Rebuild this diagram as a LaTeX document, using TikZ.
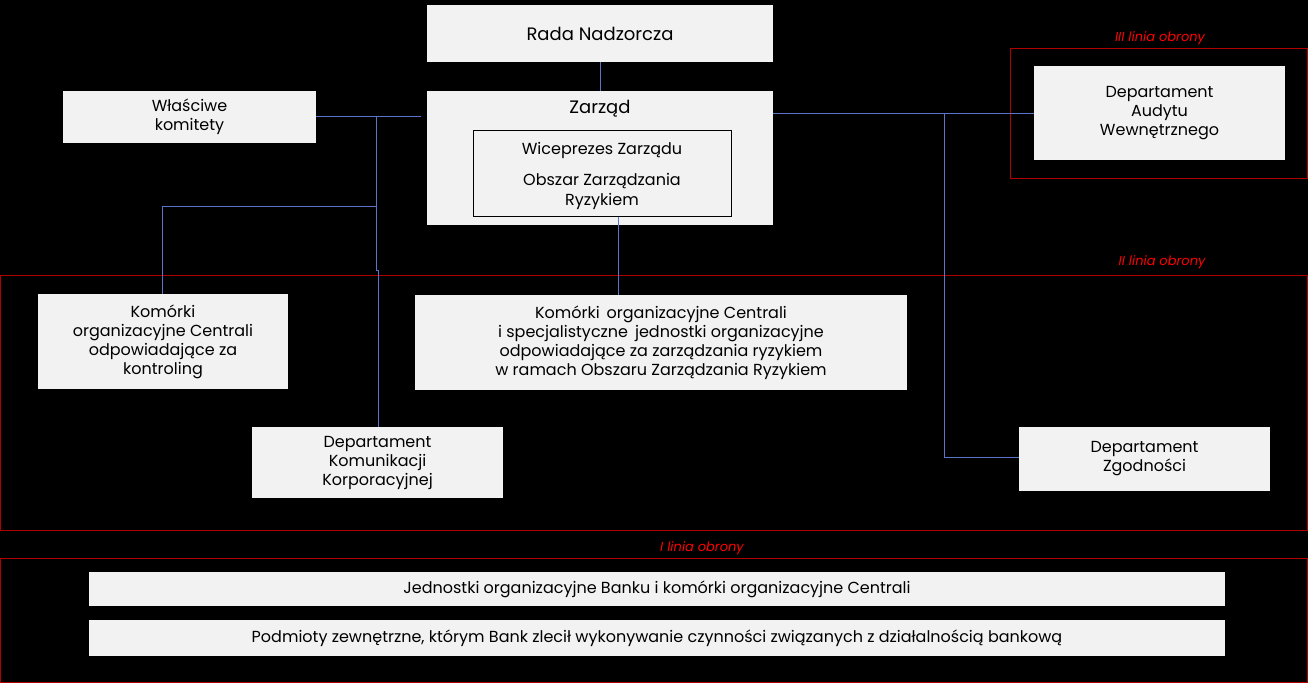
\documentclass[tikz,border=0pt]{standalone}
\usepackage{fontspec}
\setmainfont{Poppins}
\begin{document}
\begin{tikzpicture}[x=1pt,y=-1pt,
  box/.style={draw=none,fill=boxgray,inner sep=0pt,align=center,font=\fontsize{16}{19}\selectfont,text=black},
  con/.style={draw=lineblue,line width=1pt},
  frame/.style={draw=framered,line width=1pt},
  lbl/.style={text=red,font=\fontsize{13}{15}\selectfont\itshape}]
\definecolor{boxgray}{HTML}{F2F2F2}
\definecolor{lineblue}{HTML}{5B73C8}
\definecolor{framered}{HTML}{B00000}
\fill[black] (0,0) rectangle (1308,683);
\useasboundingbox (0,0) rectangle (1308,683);
% frames
\draw[frame] (1010,48) rectangle (1307,178);
\draw[frame] (0.5,275) rectangle (1307,530);
\draw[frame] (0.5,558) rectangle (1307,682);
\node[lbl] (l3) at (1160,38) {III linia obrony};
\node[lbl] (l2) at (1162,262) {II linia obrony};
\node[lbl] (l1) at (702,548) {I linia obrony};
% boxes
\node[box,minimum width=346pt,minimum height=57pt,font=\fontsize{18}{21}\selectfont] (rada) at (600,33.5) {Rada Nadzorcza};
\node[box,minimum width=346pt,minimum height=134pt] (zarzad) at (600,158) {};
\node[font=\fontsize{18}{21}\selectfont] (zt) at (600,109) {Zarząd};
\node[box,draw=black,line width=1pt,minimum width=258pt,minimum height=86pt] (wice) at (602,173) {};
\node[align=center,font=\fontsize{16}{19}\selectfont] (wt) at (602,150) {Wiceprezes Zarządu};
\node[align=center,font=\fontsize{16}{20}\selectfont] (wt2) at (602,191) {Obszar Zarządzania\\Ryzykiem};
\node[box,minimum width=253pt,minimum height=52pt] (kom) at (189.5,117) {Właściwe\\komitety};
\node[box,minimum width=251pt,minimum height=94pt] (audyt) at (1159.5,113) {Departament\\Audytu\\Wewnętrznego};
\node[box,minimum width=250pt,minimum height=95pt] (kontr) at (163,341.5) {Komórki\\organizacyjne Centrali\\odpowiadające za\\kontroling};
\node[box,minimum width=492pt,minimum height=95pt] (ryz) at (661,342.5) {Komórki\, organizacyjne Centrali\\i specjalistyczne\, jednostki organizacyjne\\odpowiadające za zarządzania ryzykiem\\w ramach Obszaru Zarządzania Ryzykiem};
\node[box,minimum width=251pt,minimum height=71pt] (komun) at (377.5,462.5) {Departament\\Komunikacji\\Korporacyjnej};
\node[box,minimum width=251pt,minimum height=64pt] (zgod) at (1144.5,459) {Departament\\Zgodności};
\node[box,minimum width=1136pt,minimum height=34pt] (jedn) at (657,589) {Jednostki organizacyjne Banku i komórki organizacyjne Centrali};
\node[box,minimum width=1136pt,minimum height=36pt] (podm) at (657,638) {Podmioty zewnętrzne, którym Bank zlecił wykonywanie czynności związanych z działalnością bankową};
% connectors
\coordinate (j1) at (376,116);
\coordinate (j2) at (376,206);
\coordinate (j3) at (944,113);
\draw[con] (rada.south) -- (zarzad.north);
\draw[con] (kom.east |- j1) -- (421,116);
\draw[con] (j1) -- (j2) -- (162,206) -- (kontr.north -| 162,0);
\draw[con] (j2) -- (376,270) -- (378,270) -- (komun.north -| 378,0);
\draw[con] (zarzad.east |- j3) -- (audyt.west |- j3);
\draw[con] (j3) -- (944,457) -- (zgod.west |- 0,457);
\draw[con] (wice.south -| 618,0) -- (ryz.north -| 618,0);
\end{tikzpicture}
\end{document}
